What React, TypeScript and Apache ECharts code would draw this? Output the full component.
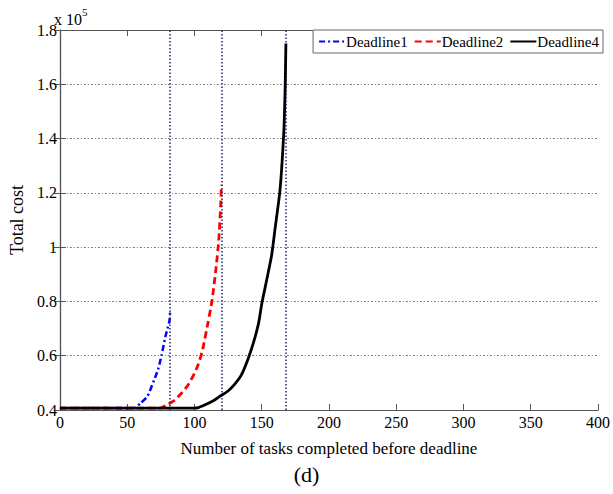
import React, { useEffect, useRef } from "react";
import * as echarts from "echarts";

const xTicks = [0, 50, 100, 150, 200, 250, 300, 350, 400];
const yTicks = [0.4, 0.6, 0.8, 1.0, 1.2, 1.4, 1.6, 1.8];

const deadline1X = [0, 55, 60, 65, 70, 73, 75.5, 78.4, 80, 81.5, 82];
const deadline1Y = [0.407, 0.407, 0.425, 0.45, 0.51, 0.55, 0.6, 0.67, 0.7, 0.73, 0.77];

const deadline2X = [0, 74, 80, 85, 90, 95, 100, 103, 106, 110, 113, 116, 118, 119.5, 120];
const deadline2Y = [0.407, 0.407, 0.42, 0.435, 0.46, 0.49, 0.535, 0.57, 0.62, 0.72, 0.8, 0.92, 1.02, 1.15, 1.23];

const deadline4X = [0, 100, 103, 106, 110, 115, 118.5, 125, 130, 135, 140, 144, 147.7, 150, 152.5, 155, 157.4, 160, 163.4, 165, 166.6, 167.5, 168];
const deadline4Y = [0.407, 0.407, 0.409, 0.415, 0.424, 0.437, 0.449, 0.47, 0.495, 0.53, 0.59, 0.65, 0.72, 0.79, 0.85, 0.91, 0.97, 1.07, 1.2, 1.3, 1.44, 1.6, 1.75];

const deadlineMarks = [82, 120, 168];
const seriesNames = ["Deadline1", "Deadline2", "Deadline4"];

const pairs = (xs: number[], ys: number[]) => xs.map((x, i) => [x, ys[i]]);

const FONT = "Liberation Serif";

export default function App() {
  const ref = useRef<HTMLDivElement>(null);
  useEffect(() => {
    if (!ref.current) return;
    const chart = echarts.init(ref.current, undefined, { renderer: "svg" });
    const fmtY = (v: number) => String(parseFloat(v.toFixed(1)));
    const gridLine = { show: true, lineStyle: { color: "#555", width: 0.8, type: [1, 2, 2, 2] } };
    const markLineCommon = (x: number) => ({
      silent: true,
      symbol: "none",
      label: { show: false },
      lineStyle: { color: "#1a2a6c", width: 1.5, type: [1.5, 2] },
      data: [{ xAxis: x }],
    });
    chart.setOption({
      animation: false,
      backgroundColor: "#fff",
      grid: { left: 54, right: 10, top: 30, bottom: 84 },
      legend: {
        data: seriesNames,
        right: 10,
        top: 30,
        orient: "horizontal",
        backgroundColor: "#fff",
        borderColor: "#666",
        borderWidth: 1,
        borderRadius: 0,
        padding: [4, 4, 4, 5],
        itemGap: 6,
        itemWidth: 26,
        itemHeight: 10,
        itemStyle: { opacity: 0 },
        textStyle: { fontFamily: FONT, fontSize: 15, color: "#000", padding: [0, 0, 0, -4] },
      },
      xAxis: [
        {
          type: "value",
          min: 0,
          max: 400,
          interval: 50,
          name: "Number of tasks completed before deadline",
          nameLocation: "middle",
          nameGap: 30,
          nameTextStyle: { fontFamily: FONT, fontSize: 17, color: "#000" },
          axisLine: { lineStyle: { color: "#555", width: 1.2 } },
          axisTick: { inside: true, length: 6, lineStyle: { color: "#555" } },
          axisLabel: { fontFamily: FONT, fontSize: 16, color: "#000", margin: 4 },
          splitLine: { show: false },
        },
        {
          type: "value",
          position: "top",
          min: 0,
          max: 400,
          interval: 50,
          axisLine: { show: true, lineStyle: { color: "#555", width: 1.2 } },
          axisTick: { show: true, inside: true, length: 6, lineStyle: { color: "#555" } },
          axisLabel: { show: false },
          splitLine: { show: false },
        },
      ],
      yAxis: [
        {
          type: "value",
          min: 0.4,
          max: 1.8,
          interval: 0.2,
          name: "Total cost",
          nameLocation: "middle",
          nameGap: 32,
          nameTextStyle: { fontFamily: FONT, fontSize: 18, color: "#000" },
          axisLine: { show: true, lineStyle: { color: "#777", width: 1.2 } },
          axisTick: { show: true, inside: true, length: 6, lineStyle: { color: "#555" } },
          axisLabel: { fontFamily: FONT, fontSize: 16, color: "#000", margin: 3, formatter: fmtY },
          splitLine: gridLine,
        },
        {
          type: "value",
          position: "right",
          min: 0.4,
          max: 1.8,
          interval: 0.2,
          axisLine: { show: true, lineStyle: { color: "#555", width: 1.2 } },
          axisTick: { show: true, inside: true, length: 6, lineStyle: { color: "#555" } },
          axisLabel: { show: false },
          splitLine: { show: false },
        },
      ],
      graphic: [
        {
          type: "text",
          left: 54,
          top: 6,
          style: {
            text: "{a|x 10}{b|5}",
            rich: {
              a: { fontFamily: FONT, fontSize: 16, color: "#000", verticalAlign: "bottom" },
              b: { fontFamily: FONT, fontSize: 11, color: "#000", verticalAlign: "top", padding: [0, 0, 10, 0] },
            },
          },
        },
        {
          type: "text",
          left: "center",
          top: 463,
          style: { text: "(d)", fontFamily: FONT, fontSize: 22, fill: "#000" },
        },
      ],
      series: [
        {
          name: seriesNames[0],
          type: "line",
          symbol: "none",
          smooth: 0.2,
          data: pairs(deadline1X, deadline1Y),
          color: "#0000ff",
          lineStyle: { color: "#0000ff", width: 2.5, type: [6, 3, 2, 3] },
          markLine: markLineCommon(deadlineMarks[0]),
          z: 3,
        },
        {
          name: seriesNames[1],
          type: "line",
          symbol: "none",
          smooth: 0.2,
          data: pairs(deadline2X, deadline2Y),
          color: "#ff0000",
          lineStyle: { color: "#ff0000", width: 2.8, type: [7, 4] },
          markLine: markLineCommon(deadlineMarks[1]),
          z: 4,
        },
        {
          name: seriesNames[2],
          type: "line",
          symbol: "none",
          smooth: 0.2,
          data: pairs(deadline4X, deadline4Y),
          color: "#000000",
          lineStyle: { color: "#000000", width: 2.8 },
          markLine: markLineCommon(deadlineMarks[2]),
          z: 5,
        },
      ],
    });
    return () => chart.dispose();
  }, []);
  return <div ref={ref} style={{ width: 613, height: 494, position: "absolute", left: 0, top: 0 }} />;
}
